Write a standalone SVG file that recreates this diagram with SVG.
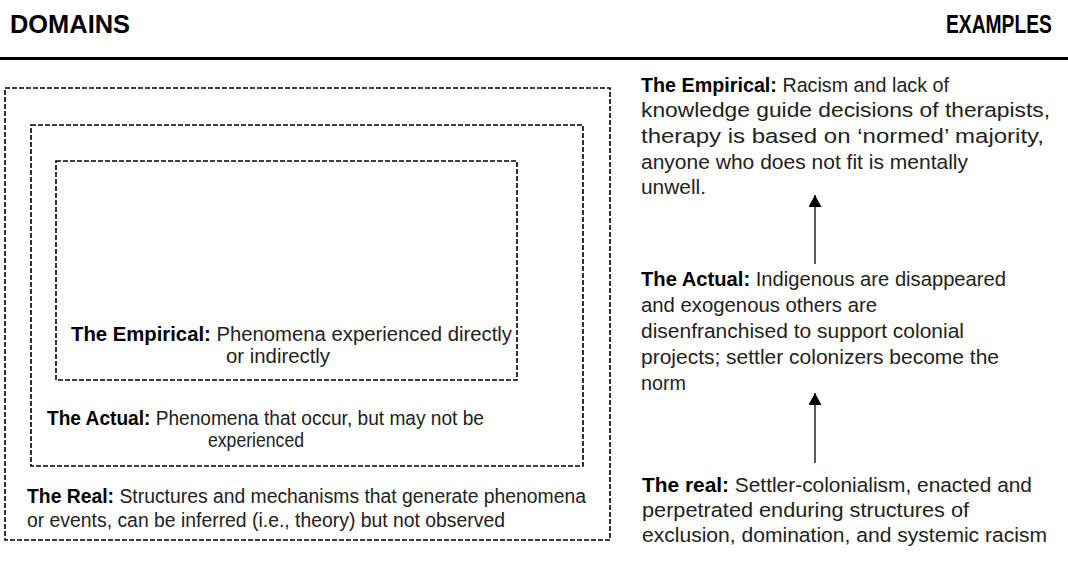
<svg xmlns="http://www.w3.org/2000/svg" width="1068" height="574" viewBox="0 0 1068 574">
<defs>
<style>
.t{font-family:"Liberation Sans","Open Sans",sans-serif;font-size:19.5px;fill:#222}
.r{font-size:20.5px}
.b{font-weight:bold;fill:#000}
.h{font-family:"Liberation Sans","Open Sans",sans-serif;font-size:25px;font-weight:bold;fill:#000}
.box{fill:none;stroke:#000;stroke-width:1.6;stroke-dasharray:5 2}
.arr{stroke:#000;stroke-width:1.3;fill:none;marker-end:url(#ah)}
</style>
<marker id="ah" viewBox="0 0 12 13" refX="12" refY="6.5" markerWidth="12" markerHeight="13" markerUnits="userSpaceOnUse" orient="auto">
<path d="M0,0 L12,6.5 L0,13 z" fill="#000"/>
</marker>
</defs>
<rect width="1068" height="574" fill="#fff"/>
<g id="header">
<text class="h" x="10" y="33" textLength="120" lengthAdjust="spacingAndGlyphs">DOMAINS</text>
<text class="h" transform="translate(946,33) scale(0.77,1)" x="0" y="0">EXAMPLES</text>
<line x1="0" y1="58.5" x2="1068" y2="58.5" stroke="#000" stroke-width="3"/>
</g>
<g id="real-domain">
<rect class="box" x="5" y="88" width="605" height="452"/>
<text class="t" x="27" y="503" textLength="559" lengthAdjust="spacingAndGlyphs"><tspan class="b">The Real:</tspan> Structures and mechanisms that generate phenomena</text>
<text class="t" x="27" y="527" textLength="478" lengthAdjust="spacingAndGlyphs">or events, can be inferred (i.e., theory) but not observed</text>
</g>
<g id="actual-domain">
<rect class="box" x="31" y="125" width="552" height="341"/>
<text class="t" x="47" y="425" textLength="437" lengthAdjust="spacingAndGlyphs"><tspan class="b">The Actual:</tspan> Phenomena that occur, but may not be</text>
<text class="t" x="208" y="447" textLength="96" lengthAdjust="spacingAndGlyphs">experienced</text>
</g>
<g id="empirical-domain">
<rect class="box" x="56" y="161" width="461" height="219"/>
<text class="t" x="71" y="341" textLength="441" lengthAdjust="spacingAndGlyphs"><tspan class="b">The Empirical:</tspan> Phenomena experienced directly</text>
<text class="t" x="226" y="363" textLength="104" lengthAdjust="spacingAndGlyphs">or indirectly</text>
</g>
<g id="example-empirical">
<text class="t r" x="641" y="92" textLength="308" lengthAdjust="spacingAndGlyphs"><tspan class="b">The Empirical:</tspan> Racism and lack of</text>
<text class="t r" x="641" y="117" textLength="409" lengthAdjust="spacingAndGlyphs">knowledge guide decisions of therapists,</text>
<text class="t r" x="641" y="143" textLength="403" lengthAdjust="spacingAndGlyphs">therapy is based on ‘normed’ majority,</text>
<text class="t r" x="641" y="169" textLength="327" lengthAdjust="spacingAndGlyphs">anyone who does not fit is mentally</text>
<text class="t r" x="641" y="194" textLength="65" lengthAdjust="spacingAndGlyphs">unwell.</text>
</g>
<g id="example-actual">
<text class="t r" x="641" y="286" textLength="365" lengthAdjust="spacingAndGlyphs"><tspan class="b">The Actual:</tspan> Indigenous are disappeared</text>
<text class="t r" x="641" y="312" textLength="236" lengthAdjust="spacingAndGlyphs">and exogenous others are</text>
<text class="t r" x="641" y="338" textLength="323" lengthAdjust="spacingAndGlyphs">disenfranchised to support colonial</text>
<text class="t r" x="641" y="364" textLength="358" lengthAdjust="spacingAndGlyphs">projects; settler colonizers become the</text>
<text class="t r" x="641" y="390" textLength="45" lengthAdjust="spacingAndGlyphs">norm</text>
</g>
<g id="connectors">
<line class="arr" x1="815" y1="264" x2="815" y2="195"/>
<line class="arr" x1="815" y1="463" x2="815" y2="393"/>
</g>
<g id="example-real">
<text class="t r" x="642" y="492" textLength="390" lengthAdjust="spacingAndGlyphs"><tspan class="b">The real:</tspan> Settler-colonialism, enacted and</text>
<text class="t r" x="642" y="517" textLength="327" lengthAdjust="spacingAndGlyphs">perpetrated enduring structures of</text>
<text class="t r" x="642" y="542" textLength="405" lengthAdjust="spacingAndGlyphs">exclusion, domination, and systemic racism</text>
</g>
</svg>
